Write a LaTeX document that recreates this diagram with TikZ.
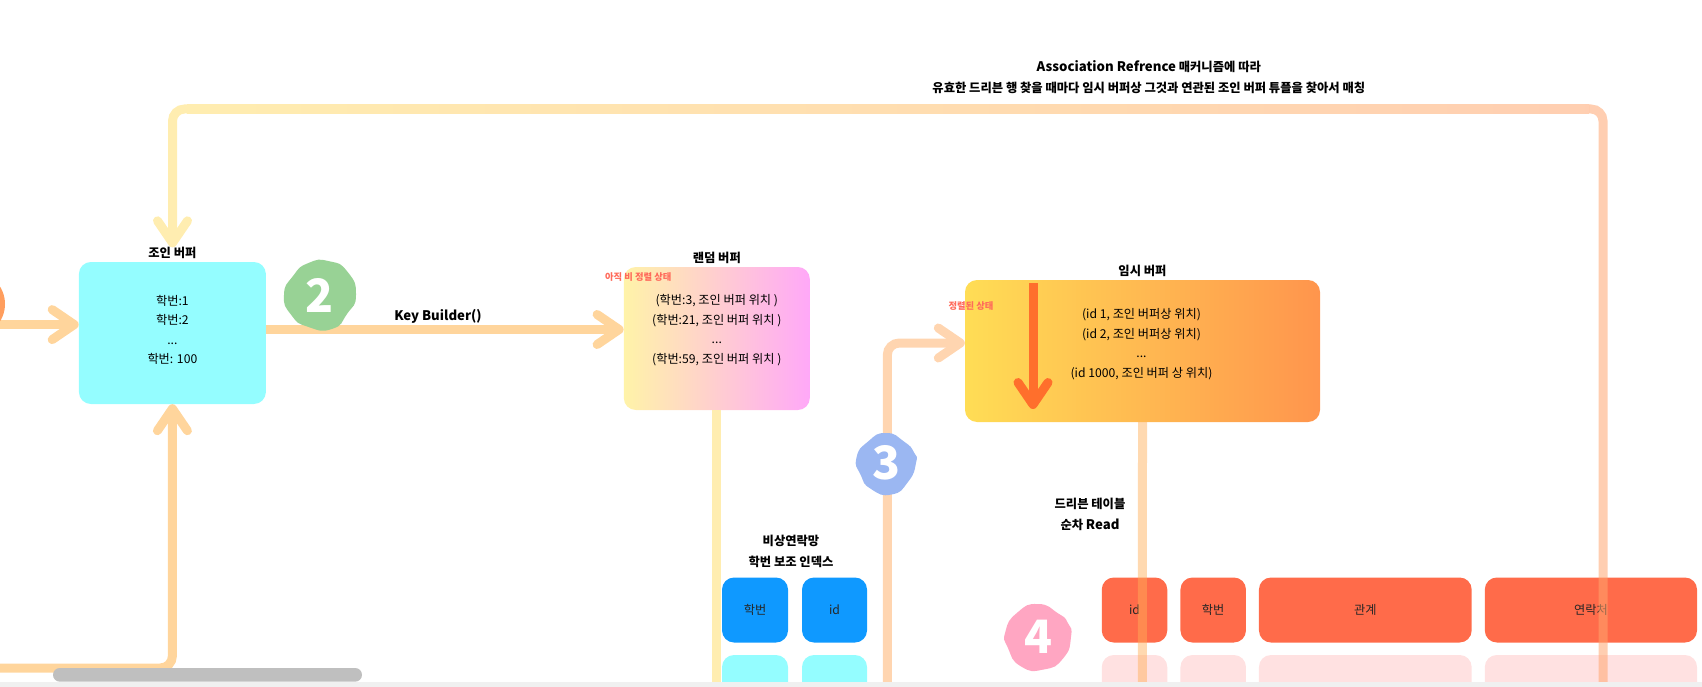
\documentclass[tikz,border=0pt]{standalone}
\usepackage{fontspec}
\setmainfont{Noto Sans CJK KR}
\usepackage{tikz}
\usetikzlibrary{arrows.meta, positioning}

\definecolor{linkyellow}{HTML}{FFEDB0}
\definecolor{linksand}{HTML}{FFD59C}
\definecolor{linkpeach}{HTML}{FFD5B0}
\definecolor{linkcoral}{HTML}{FFA56E}
\definecolor{linkamber}{HTML}{FFAE57}
\definecolor{sortorange}{HTML}{FF6F2C}
\definecolor{redhead}{HTML}{FF6B4A}
\definecolor{rednote}{HTML}{FF6B5B}
\definecolor{redrow}{HTML}{FFE1E1}
\definecolor{bluehead}{HTML}{0F99FF}
\definecolor{cyanbox}{HTML}{94FDFF}
\definecolor{randleft}{HTML}{FFF3A8}
\definecolor{randright}{HTML}{FFA8F8}
\definecolor{templeft}{HTML}{FFDD55}
\definecolor{tempright}{HTML}{FF954D}
\definecolor{blobone}{HTML}{FF9E5E}
\definecolor{blobtwo}{HTML}{98D295}
\definecolor{blobthree}{HTML}{9BB7F2}
\definecolor{blobfour}{HTML}{FFA6C2}
\newcommand{\latinpart}[1]{{\fontsize{13.2}{21}\selectfont #1}}

\begin{document}
\begin{tikzpicture}[x=1pt, y=-1pt,
    link/.style={line width=9pt},
    arrowlink/.style={link, -{Straight Barb[length=22pt, width=30pt, round]}},
    buffer/.style={rectangle, rounded corners=12pt, minimum width=#1, inner sep=0pt},
    cell/.style={rectangle, rounded corners=12pt, minimum height=65pt, inner sep=0pt, font=\fontsize{12.2}{16}\selectfont, text=black!85},
    rowcell/.style={rectangle, rounded corners=12pt, minimum height=60pt, inner sep=0pt},
    title/.style={font=\fontsize{12.3}{21}\selectfont\bfseries, align=center, inner sep=0pt},
    bodytext/.style={font=\fontsize{12.2}{19.5}\selectfont, align=center, inner sep=0pt},
    note/.style={font=\fontsize{9.3}{12}\selectfont\bfseries, text=rednote, inner sep=0pt},
    stepnum/.style={inner sep=0pt, text=white, font=\fontsize{46}{46}\selectfont\bfseries}]
    \clip (0,0) rectangle (1702,687);
    \useasboundingbox (0,0) rectangle (1702,687);

    % buffers
    \node[buffer=187pt, minimum height=142pt, fill=cyanbox] (join) at (172.4,333) {};
    \node[buffer=186pt, minimum height=143pt, shade, left color=randleft, right color=randright] (rand) at (716.8,338.5) {};
    \node[buffer=355pt, minimum height=142pt, shade, left color=templeft, right color=tempright] (temp) at (1142.5,351) {};

    \node[title, above=2.5pt of join] (jointitle) {조인 버퍼};
    \node[title, above=2.5pt of rand] (randtitle) {랜덤 버퍼};
    \node[title, above=2.5pt of temp] (temptitle) {임시 버퍼};

    \node[bodytext] (jointext) at (172.4,330) {학번:1\\학번:2\\...\\학번: 100};
    \node[bodytext] (randtext) at (716.8,330) {(학번:3, 조인 버퍼 위치 )\\(학번:21, 조인 버퍼 위치 )\\...\\(학번:59, 조인 버퍼 위치 )};
    \node[bodytext] (temptext) at (1141.5,344) {(id 1, 조인 버퍼상 위치)\\(id 2, 조인 버퍼상 위치)\\...\\(id 1000, 조인 버퍼 상 위치)};

    \node[note] (randnote) at (638.3,277) {아직 비 정렬 상태};
    \node[note] (tempnote) at (971,306) {정렬된 상태};

    % index
    \node[title] (indextitle) at (791,551) {비상연락망\\학번 보조 인덱스};
    \node[cell, minimum width=66pt, fill=bluehead] (indexno) at (755,610) {학번};
    \node[cell, minimum width=65pt, fill=bluehead] (indexid) at (834.5,610) {id};
    \node[rowcell, minimum width=66pt, fill=cyanbox] (indexno2) at (755,685) {};
    \node[rowcell, minimum width=65pt, fill=cyanbox] (indexid2) at (834.5,685) {};

    % driven table
    \node[title] (driventitle) at (1090,514) {드리븐 테이블\\순차 \latinpart{Read}};
    \node[cell, minimum width=65.5pt, fill=redhead] (tabid) at (1134.5,610) {id};
    \node[cell, minimum width=65.5pt, fill=redhead] (tabno) at (1213.2,610) {학번};
    \node[cell, minimum width=212.7pt, fill=redhead] (tabrel) at (1365.3,610) {관계};
    \node[cell, minimum width=212.2pt, fill=redhead] (tabtel) at (1590.9,610) {연락처};
    \node[rowcell, minimum width=65.5pt, fill=redrow] (tabid2) at (1134.5,685) {};
    \node[rowcell, minimum width=65.5pt, fill=redrow] (tabno2) at (1213.2,685) {};
    \node[rowcell, minimum width=212.7pt, fill=redrow] (tabrel2) at (1365.3,685) {};
    \node[rowcell, minimum width=212.2pt, fill=redrow] (tabtel2) at (1590.9,685) {};

    % free ends
    \coordinate (leftin) at (0,324.6);
    \coordinate (leftlow) at (0,668);
    \coordinate (keyrow) at (0,329.5);
    \coordinate (randdown) at (716.8,682);
    \coordinate (tempup) at (887.3,682);
    \coordinate (tempin) at (0,343);
    \coordinate (tempdown) at (1142.4,682);
    \coordinate (loopdown) at (1603,682);
    \coordinate (looptop) at (1603,109);
    \coordinate (loopleft) at (172.5,109);
    \coordinate (sorttop) at (1033,283);
    \coordinate (sortend) at (1033,409);

    % connectors
    \draw[arrowlink, linksand] (leftin) -- (leftin -| join.west);
    \draw[arrowlink, linksand, rounded corners=12pt] (leftlow) -| (join.south);
    \draw[arrowlink, linksand] (join.east |- keyrow) -- (rand.west |- keyrow);
    \draw[link, linkyellow] (rand.south) -- (randdown);
    \draw[arrowlink, linkpeach, rounded corners=12pt] (tempup) |- (temp.west |- tempin);
    \draw[link, linkamber, opacity=0.47] (temp.south) -- (tempdown);
    \draw[arrowlink, linkyellow, rounded corners=12pt] ([xshift=14pt]loopleft) -- (loopleft) -- (jointitle.north -| loopleft);
    \shade[left color=linkyellow, right color=linkcoral!54!white] ([xshift=14pt,yshift=4.5pt]loopleft) rectangle ([xshift=-14pt,yshift=-4.5pt]looptop);
    \draw[link, linkcoral, opacity=0.54, rounded corners=12pt] (loopdown) -- (looptop) -- ([xshift=-14pt]looptop);
    \draw[arrowlink, sortorange] (sorttop) -- (sortend);

    \node[title] (looptext) at (1148.8,77) {\latinpart{Association Refrence} 매커니즘에 따라\\유효한 드리븐 행 찾을 때마다 임시 버퍼상 그것과 연관된 조인 버퍼 튜플을 찾아서 매칭};
    \node[title] (keytext) at (438,316.5) {\latinpart{Key Builder()}};

    % step blobs
    \fill[blobone] (-28,304) circle (33);
    \fill[blobtwo, shift={(320,295)}] plot[smooth cycle, tension=1] coordinates {(0:36) (35:33) (70:36) (110:34) (145:35) (180:36) (215:33) (250:34) (285:35) (320:36)};
    \fill[blobthree, shift={(886,463)}] plot[smooth cycle, tension=1] coordinates {(0:30) (40:29) (80:32) (120:30) (155:28) (190:30) (230:28) (270:30) (310:28) (340:30)};
    \fill[blobfour, shift={(1038,637)}] plot[smooth cycle, tension=1] coordinates {(0:33) (40:33) (80:33) (120:34) (160:32) (190:33) (230:32) (270:33) (310:31) (335:33)};
    \node[stepnum] (step2) at (320,295) {2};
    \node[stepnum] (step3) at (886,463) {3};
    \node[stepnum] (step4) at (1038,637) {4};

    % scroll bar
    \fill[black!25] (53,668) [rounded corners=6.8pt] rectangle (362,681.7);
    \fill[blue!5!black!6] (0,682) rectangle (1702,687);
\end{tikzpicture}
\end{document}
